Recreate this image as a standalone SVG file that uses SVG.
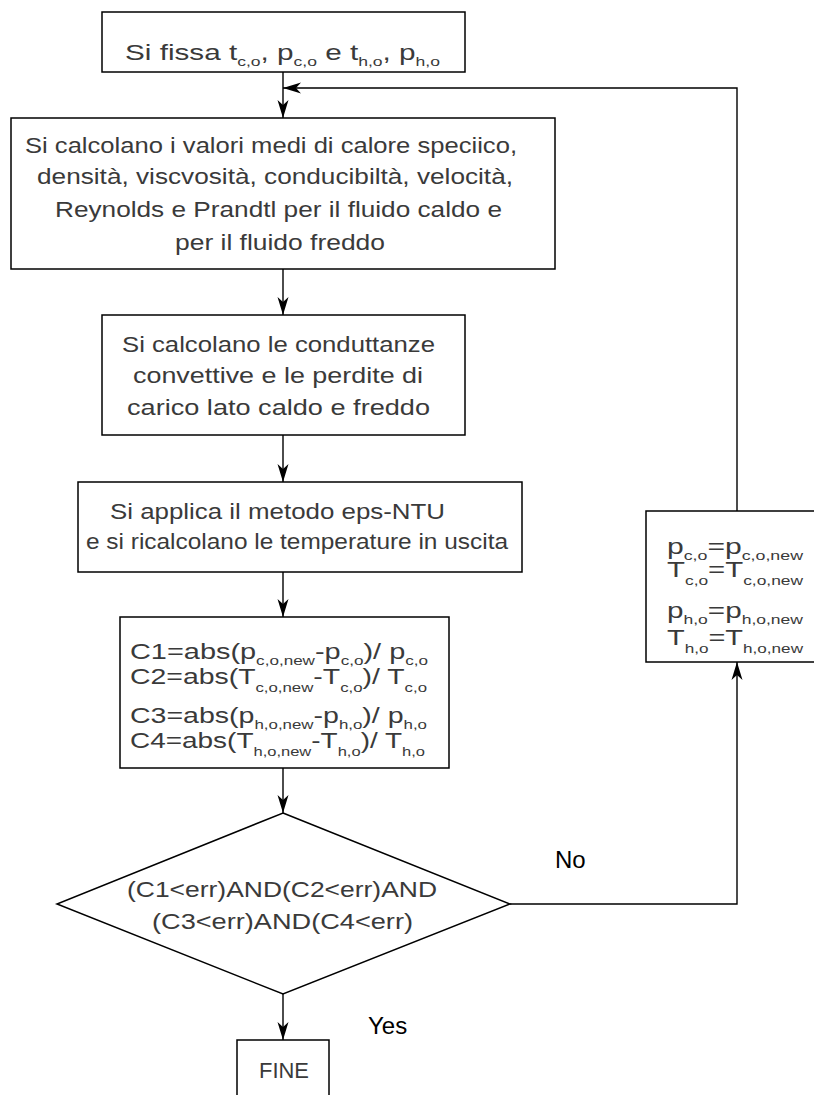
<svg xmlns="http://www.w3.org/2000/svg" width="814" height="1095" viewBox="0 0 814 1095">
  <style>
    .box { fill: #fff; stroke: #000; stroke-width: 1.5; }
    .wire { fill: none; stroke: #000; stroke-width: 1.4; }
    .t { font-family: "Liberation Sans", Arial, sans-serif; font-size: 22px; fill: #3a3a3a; }
    .s { font-size: 13px; }
    .lbl { font-family: "Liberation Sans", Arial, sans-serif; font-size: 24px; fill: #000; }
  </style>
  <defs>
    <marker id="arrow" viewBox="0 0 18 12" refX="18" refY="6" markerWidth="18" markerHeight="12" markerUnits="userSpaceOnUse" orient="auto">
      <path d="M0,0.5 L18,6 L0,11.5 L5,6 Z" fill="#000"/>
    </marker>
  </defs>

  <!-- connectors -->
  <g id="connectors">
    <line class="wire" x1="283" y1="72" x2="283" y2="118" marker-end="url(#arrow)"/>
    <line class="wire" x1="283" y1="269" x2="283" y2="315" marker-end="url(#arrow)"/>
    <line class="wire" x1="283" y1="435" x2="283" y2="482" marker-end="url(#arrow)"/>
    <line class="wire" x1="283" y1="572" x2="283" y2="617" marker-end="url(#arrow)"/>
    <line class="wire" x1="283" y1="768" x2="283" y2="813" marker-end="url(#arrow)"/>
    <line class="wire" x1="283" y1="994" x2="283" y2="1040" marker-end="url(#arrow)"/>
    <!-- "No" branch up to the update box -->
    <polyline class="wire" points="510,904 737,904 737,662" marker-end="url(#arrow)"/>
    <!-- loop back to the top -->
    <polyline class="wire" points="737,511 737,88 283,88" marker-end="url(#arrow)"/>
    <text class="lbl" x="555" y="868">No</text>
    <text class="lbl" x="368" y="1034">Yes</text>
  </g>

  <!-- start -->
  <g id="start">
    <rect class="box" x="102" y="12" width="363" height="60"/>
    <text class="t" x="125" y="60" textLength="315" lengthAdjust="spacingAndGlyphs">Si fissa t<tspan class="s" baseline-shift="-6">c,o</tspan>, p<tspan class="s" baseline-shift="-6">c,o</tspan> e  t<tspan class="s" baseline-shift="-6">h,o</tspan>, p<tspan class="s" baseline-shift="-6">h,o</tspan></text>
  </g>

  <!-- mean properties -->
  <g id="properties">
    <rect class="box" x="11" y="118" width="544" height="151"/>
    <text class="t" x="25" y="153" textLength="492" lengthAdjust="spacingAndGlyphs">Si calcolano i valori medi di calore speciico,</text>
    <text class="t" x="37" y="184" textLength="476" lengthAdjust="spacingAndGlyphs">densità, viscvosità, conducibiltà, velocità,</text>
    <text class="t" x="55" y="217" textLength="447" lengthAdjust="spacingAndGlyphs">Reynolds e Prandtl per il fluido caldo e</text>
    <text class="t" x="175" y="250" textLength="210" lengthAdjust="spacingAndGlyphs">per il fluido freddo</text>
  </g>

  <!-- conductances -->
  <g id="conductances">
    <rect class="box" x="102" y="315" width="363" height="120"/>
    <text class="t" x="122" y="352" textLength="313" lengthAdjust="spacingAndGlyphs">Si calcolano le conduttanze</text>
    <text class="t" x="133" y="383" textLength="290" lengthAdjust="spacingAndGlyphs">convettive e le perdite di</text>
    <text class="t" x="127" y="415" textLength="303" lengthAdjust="spacingAndGlyphs">carico lato caldo e freddo</text>
  </g>

  <!-- eps-NTU -->
  <g id="eps-ntu">
    <rect class="box" x="78" y="482" width="444" height="90"/>
    <text class="t" x="110" y="519" textLength="335" lengthAdjust="spacingAndGlyphs">Si applica il metodo eps-NTU</text>
    <text class="t" x="86" y="549" textLength="422" lengthAdjust="spacingAndGlyphs">e si ricalcolano le temperature in uscita</text>
  </g>

  <!-- residuals -->
  <g id="residuals">
    <rect class="box" x="120" y="617" width="329" height="151"/>
    <text class="t" x="130" y="659" textLength="298" lengthAdjust="spacingAndGlyphs">C1=abs(p<tspan class="s" baseline-shift="-6">c,o,new</tspan>-p<tspan class="s" baseline-shift="-6">c,o</tspan>)/ p<tspan class="s" baseline-shift="-6">c,o</tspan></text>
    <text class="t" x="130" y="684" textLength="297" lengthAdjust="spacingAndGlyphs">C2=abs(T<tspan class="s" baseline-shift="-8">c,o,new</tspan>-T<tspan class="s" baseline-shift="-8">c,o</tspan>)/ T<tspan class="s" baseline-shift="-8">c,o</tspan></text>
    <text class="t" x="130" y="723" textLength="297" lengthAdjust="spacingAndGlyphs">C3=abs(p<tspan class="s" baseline-shift="-6">h,o,new</tspan>-p<tspan class="s" baseline-shift="-6">h,o</tspan>)/ p<tspan class="s" baseline-shift="-6">h,o</tspan></text>
    <text class="t" x="130" y="748" textLength="295" lengthAdjust="spacingAndGlyphs">C4=abs(T<tspan class="s" baseline-shift="-8">h,o,new</tspan>-T<tspan class="s" baseline-shift="-8">h,o</tspan>)/ T<tspan class="s" baseline-shift="-8">h,o</tspan></text>
  </g>

  <!-- convergence test -->
  <g id="decision">
    <polygon class="box" points="283,813 510,904 283,994 57,904"/>
    <text class="t" x="127" y="897" font-size="23" textLength="310" lengthAdjust="spacingAndGlyphs">(C1&lt;err)AND(C2&lt;err)AND</text>
    <text class="t" x="152" y="929" font-size="23" textLength="261" lengthAdjust="spacingAndGlyphs">(C3&lt;err)AND(C4&lt;err)</text>
  </g>

  <!-- update of outlet values -->
  <g id="update">
    <rect class="box" x="646" y="511" width="180" height="151"/>
    <text class="t" x="667" y="554" textLength="136" lengthAdjust="spacingAndGlyphs">p<tspan class="s" baseline-shift="-6">c,o</tspan>=p<tspan class="s" baseline-shift="-6">c,o,new</tspan></text>
    <text class="t" x="667" y="577" textLength="136" lengthAdjust="spacingAndGlyphs">T<tspan class="s" baseline-shift="-8">c,o</tspan>=T<tspan class="s" baseline-shift="-8">c,o,new</tspan></text>
    <text class="t" x="667" y="618" textLength="136" lengthAdjust="spacingAndGlyphs">p<tspan class="s" baseline-shift="-6">h,o</tspan>=p<tspan class="s" baseline-shift="-6">h,o,new</tspan></text>
    <text class="t" x="667" y="645" textLength="136" lengthAdjust="spacingAndGlyphs">T<tspan class="s" baseline-shift="-8">h,o</tspan>=T<tspan class="s" baseline-shift="-8">h,o,new</tspan></text>
  </g>

  <!-- end -->
  <g id="end">
    <rect class="box" x="237" y="1040" width="92" height="70"/>
    <text class="t" x="259" y="1078" textLength="50" lengthAdjust="spacingAndGlyphs">FINE</text>
  </g>
</svg>
